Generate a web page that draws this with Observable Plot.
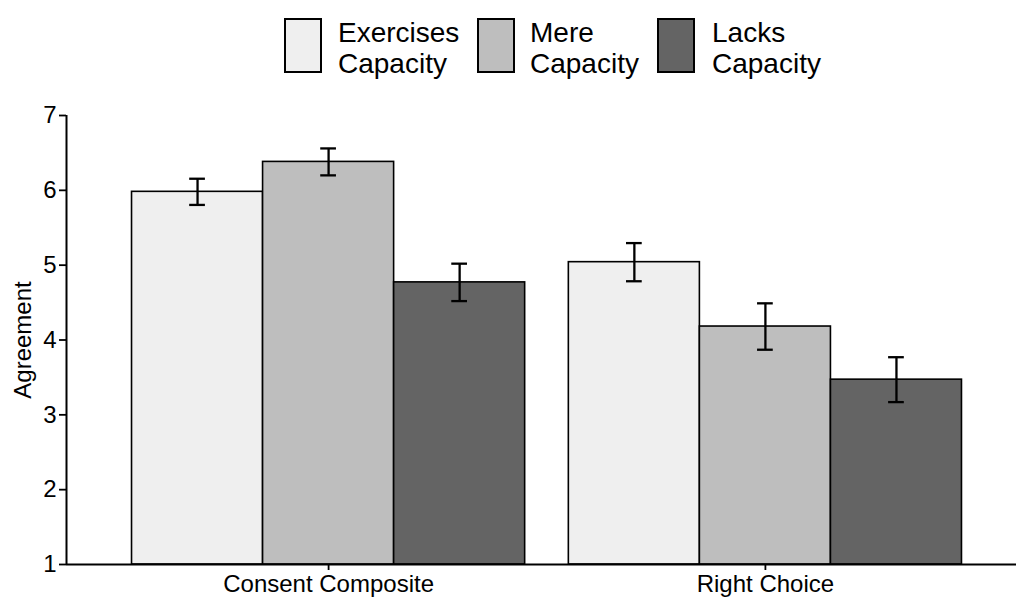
<!DOCTYPE html>
<html>
<head>
<meta charset="utf-8">
<script src="https://cdn.jsdelivr.net/npm/d3@7"></script>
<script src="https://cdn.jsdelivr.net/npm/@observablehq/plot@0.6"></script>
<style>
  html, body { margin: 0; padding: 0; background: #fff; }
  body { width: 1016px; height: 597px; overflow: hidden; font-family: "Liberation Sans", Arial, sans-serif; }
  #legend { position: relative; width: 1016px; height: 90px; }
  .box { position: absolute; top: 18px; width: 34px; height: 51px; border: 2px solid #000; }
  .lab { position: absolute; top: 17px; font-size: 28px; line-height: 31px; color: #000; white-space: nowrap; }
  svg { display: block; }
</style>
</head>
<body>
<div id="legend"></div>
<div id="chart"></div>
<script>
const groups = ["Consent Composite", "Right Choice"];
const conditions = ["Exercises Capacity", "Mere Capacity", "Lacks Capacity"];
const legendLines = [["Exercises", "Capacity"], ["Mere", "Capacity"], ["Lacks", "Capacity"]];
const meanConsent = [5.98, 6.38, 4.77];
const meanRight = [5.04, 4.18, 3.47];
const seConsent = [0.175, 0.18, 0.25];
const seRight = [0.255, 0.31, 0.30];
const yTicks = [1, 2, 3, 4, 5, 6, 7];
const fills = ["#efefef", "#bebebe", "#646464"];

const means = [meanConsent, meanRight];
const ses = [seConsent, seRight];
const rows = [];
groups.forEach((g, gi) => {
  conditions.forEach((c, ci) => {
    const x1 = (gi + 1) - 0.45 + ci * 0.3;
    rows.push({
      group: g, cond: c,
      x1, x2: x1 + 0.3, xc: x1 + 0.15,
      mean: means[gi][ci],
      lo: means[gi][ci] - ses[gi][ci],
      hi: means[gi][ci] + ses[gi][ci]
    });
  });
});

// Legend (HTML, above the SVG)
const legend = document.getElementById("legend");
const boxLeft = [284, 477, 657];
const textLeft = [338, 530, 712];
conditions.forEach((c, i) => {
  const b = document.createElement("div");
  b.className = "box";
  b.style.left = boxLeft[i] + "px";
  b.style.background = fills[i];
  legend.appendChild(b);
  const t = document.createElement("div");
  t.className = "lab";
  t.style.left = textLeft[i] + "px";
  t.innerHTML = legendLines[i].join("<br>");
  legend.appendChild(t);
});

const xDomain = [0.4, 2.6];
const chart = Plot.plot({
  width: 1016,
  height: 507,
  marginTop: 25,
  marginBottom: 33,
  marginLeft: 66,
  marginRight: 0,
  style: { fontFamily: "'Liberation Sans', Arial, sans-serif", fontSize: "24px", color: "#000", background: "#fff" },
  x: { type: "linear", domain: xDomain, range: [66, 1027] },
  y: { domain: [1, 7] },
  color: { domain: conditions, range: fills },
  marks: [
    Plot.rectY(rows, { x1: "x1", x2: "x2", y1: 1, y2: "mean", fill: "cond", stroke: "#000", strokeWidth: 1.6 }),
    Plot.ruleX(rows, { x: "xc", y1: "lo", y2: "hi", stroke: "#000", strokeWidth: 2.3 }),
    Plot.ruleY(rows, { y: "lo", x1: d => d.xc - 0.018, x2: d => d.xc + 0.018, stroke: "#000", strokeWidth: 2.3 }),
    Plot.ruleY(rows, { y: "hi", x1: d => d.xc - 0.018, x2: d => d.xc + 0.018, stroke: "#000", strokeWidth: 2.3 }),
    Plot.ruleX([xDomain[0]], { y1: yTicks[0], y2: yTicks[yTicks.length - 1], stroke: "#000", strokeWidth: 2 }),
    Plot.ruleY([yTicks[0]], { stroke: "#000", strokeWidth: 2 }),
    Plot.axisY({
      ticks: yTicks, tickSize: 7, tickPadding: 3, tickFormat: d => String(d),
      label: "Agreement", labelAnchor: "center", labelArrow: "none", labelOffset: 53,
      strokeWidth: 1.8, fontSize: 24
    }),
    Plot.axisX({
      ticks: [1, 2], tickSize: 6, tickPadding: 4, tickFormat: d => groups[d - 1],
      label: null, strokeWidth: 1.8, fontSize: 24
    })
  ]
});
document.getElementById("chart").appendChild(chart);
</script>
</body>
</html>
